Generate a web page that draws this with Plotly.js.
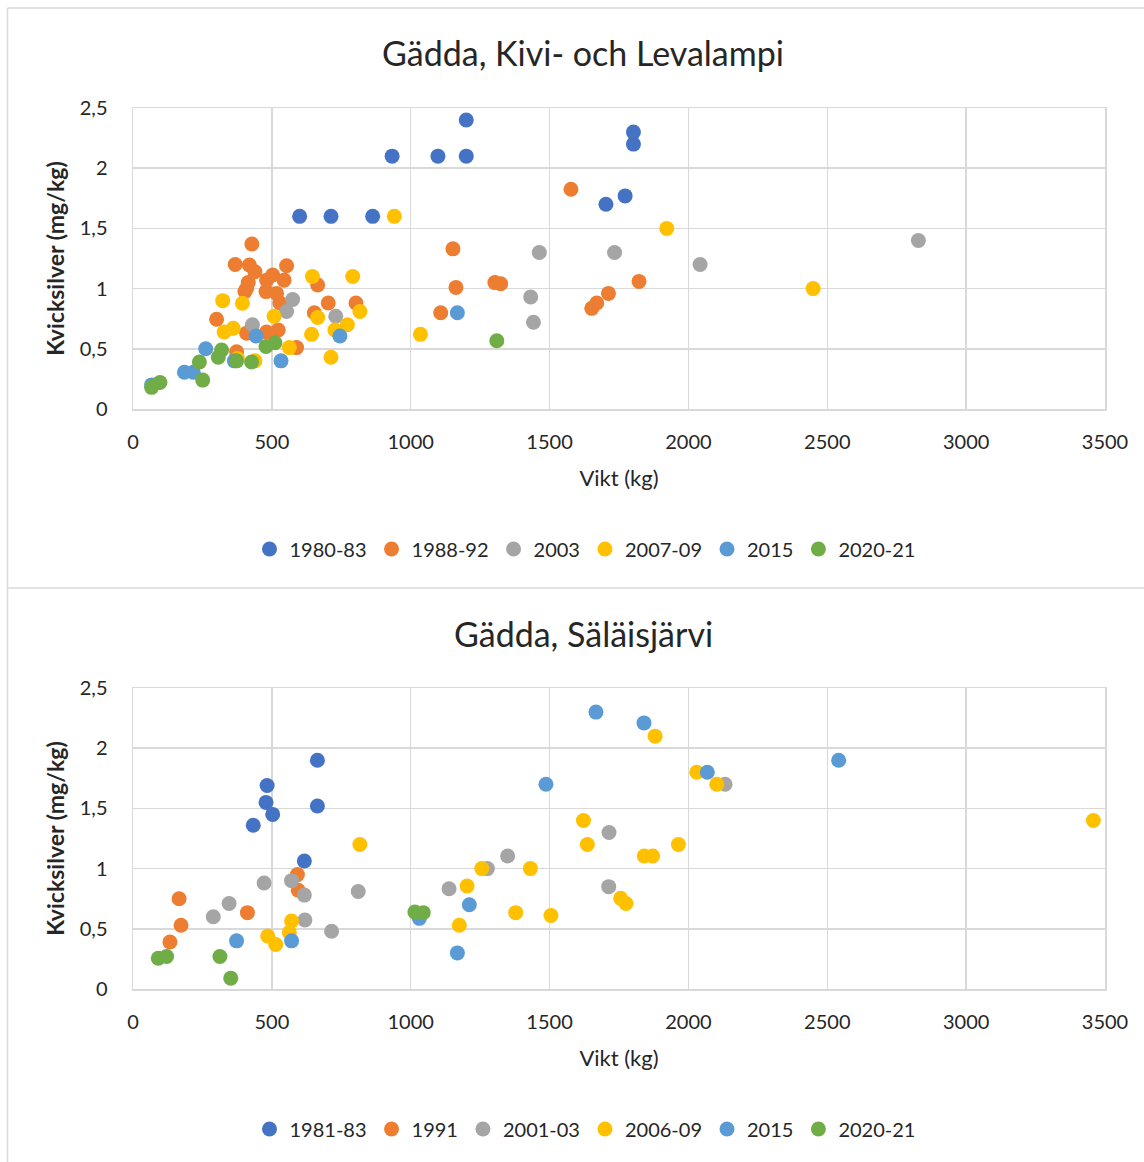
<!DOCTYPE html>
<html>
<head>
<meta charset="utf-8">
<script src="https://cdn.plot.ly/plotly-3.0.1.min.js"></script>
<style>
html,body{margin:0;padding:0;background:#fff;}
#chart{width:1144px;height:1162px;}
</style>
</head>
<body>
<div id="chart"></div>
<script>
// ---------- Data: Gädda, Kivi- och Levalampi ----------
const topTitle = "Gädda, Kivi- och Levalampi";
const topNames = ["1980-83", "1988-92", "2003", "2007-09", "2015", "2020-21"];
const kivi_1980_83_x = [600, 713, 863, 933, 1098, 1200, 1200, 1703, 1772, 1802, 1802];
const kivi_1980_83_y = [1.6, 1.6, 1.6, 2.1, 2.1, 2.1, 2.4, 1.70, 1.77, 2.20, 2.30];
const kivi_1988_92_x = [301, 368, 373, 403, 409, 409, 415, 419, 428, 439, 479, 481, 481, 503, 517, 523, 529, 544, 553, 589, 653, 665, 703, 803, 1108, 1152, 1163, 1303, 1324, 1577, 1652, 1670, 1712, 1822];
const kivi_1988_92_y = [0.745, 1.20, 0.476, 0.975, 0.63, 1.0, 1.05, 1.196, 1.37, 1.14, 0.975, 1.07, 0.64, 1.113, 0.96, 0.656, 0.88, 1.07, 1.19, 0.51, 0.80, 1.03, 0.88, 0.88, 0.80, 1.33, 1.01, 1.05, 1.04, 1.825, 0.836, 0.88, 0.96, 1.06];
const kivi_2003_x = [430, 553, 575, 730, 1432, 1442, 1463, 1734, 2042, 2828];
const kivi_2003_y = [0.70, 0.81, 0.91, 0.77, 0.93, 0.72, 1.30, 1.30, 1.20, 1.40];
const kivi_2007_09_x = [323, 328, 361, 376, 394, 439, 508, 563, 643, 646, 665, 713, 727, 772, 791, 817, 941, 1035, 1922, 2449];
const kivi_2007_09_y = [0.90, 0.64, 0.67, 0.42, 0.878, 0.40, 0.77, 0.51, 0.62, 1.10, 0.76, 0.43, 0.656, 0.70, 1.10, 0.81, 1.6, 0.62, 1.50, 1.0];
const kivi_2015_x = [67, 185, 217, 262, 365, 443, 533, 745, 1168];
const kivi_2015_y = [0.20, 0.305, 0.305, 0.50, 0.40, 0.606, 0.40, 0.606, 0.80];
const kivi_2020_21_x = [67, 97, 239, 251, 307, 319, 373, 427, 479, 511, 1310];
const kivi_2020_21_y = [0.18, 0.22, 0.39, 0.24, 0.43, 0.49, 0.40, 0.39, 0.52, 0.55, 0.567];

// ---------- Data: Gädda, Säläisjärvi ----------
const bottomTitle = "Gädda, Säläisjärvi";
const bottomNames = ["1981-83", "1991", "2001-03", "2006-09", "2015", "2020-21"];
const sal_1981_83_x = [433, 479, 483, 503, 617, 664, 664];
const sal_1981_83_y = [1.36, 1.55, 1.69, 1.45, 1.063, 1.52, 1.90];
const sal_1991_x = [133, 166, 173, 412, 592, 595];
const sal_1991_y = [0.39, 0.75, 0.53, 0.634, 0.95, 0.82];
const sal_2001_03_x = [289, 346, 472, 571, 617, 619, 715, 811, 1138, 1276, 1349, 1713, 1714, 2132];
const sal_2001_03_y = [0.60, 0.71, 0.88, 0.90, 0.78, 0.573, 0.48, 0.81, 0.833, 1.0, 1.105, 0.85, 1.30, 1.70];
const sal_2006_09_x = [485, 514, 563, 571, 817, 1175, 1203, 1256, 1378, 1431, 1505, 1622, 1636, 1756, 1775, 1841, 1871, 1880, 1964, 2030, 2102, 3458];
const sal_2006_09_y = [0.44, 0.37, 0.47, 0.565, 1.20, 0.53, 0.855, 1.0, 0.634, 1.0, 0.61, 1.40, 1.20, 0.753, 0.71, 1.105, 1.105, 2.10, 1.20, 1.80, 1.70, 1.40];
const sal_2015_x = [373, 571, 1031, 1168, 1211, 1487, 1667, 1840, 2068, 2541];
const sal_2015_y = [0.40, 0.40, 0.587, 0.30, 0.70, 1.70, 2.30, 2.21, 1.80, 1.90];
const sal_2020_21_x = [91, 121, 313, 352, 1015, 1045];
const sal_2020_21_y = [0.255, 0.27, 0.27, 0.09, 0.64, 0.634];

// ---------- Axes ----------
const xTickVals = [0, 500, 1000, 1500, 2000, 2500, 3000, 3500];
const xTickText = ["0", "500", "1000", "1500", "2000", "2500", "3000", "3500"];
const yTickVals = [0, 0.5, 1, 1.5, 2, 2.5];
const yTickText = ["0", "0,5", "1", "1,5", "2", "2,5"];
const xTitle = "Vikt (kg)";
const yTitle = "Kvicksilver (mg/kg)";

const colors = ["#4472C4", "#ED7D31", "#A5A5A5", "#FFC000", "#5B9BD5", "#70AD47"];

const W = 1144, H = 1162;
const FONT = "Lato, 'Open Sans', sans-serif";
const TXT = "#262626";

function mk(x, y, name, i, xa, ya, leg) {
  return {
    type: "scatter", mode: "markers", x: x, y: y, name: name,
    xaxis: xa, yaxis: ya, legend: leg,
    marker: {color: colors[i], size: 15, line: {width: 0}},
    hoverinfo: "x+y+name"
  };
}

const topX = [kivi_1980_83_x, kivi_1988_92_x, kivi_2003_x, kivi_2007_09_x, kivi_2015_x, kivi_2020_21_x];
const topY = [kivi_1980_83_y, kivi_1988_92_y, kivi_2003_y, kivi_2007_09_y, kivi_2015_y, kivi_2020_21_y];
const botX = [sal_1981_83_x, sal_1991_x, sal_2001_03_x, sal_2006_09_x, sal_2015_x, sal_2020_21_x];
const botY = [sal_1981_83_y, sal_1991_y, sal_2001_03_y, sal_2006_09_y, sal_2015_y, sal_2020_21_y];

const traces = [];
for (let i = 0; i < 6; i++) traces.push(mk(topX[i], topY[i], topNames[i], i, "x", "y", "legend"));
for (let i = 0; i < 6; i++) traces.push(mk(botX[i], botY[i], bottomNames[i], i, "x2", "y2", "legend2"));

const px = v => v / W;
const py = v => 1 - v / H;

function xax(anchor) {
  return {
    domain: [px(133), px(1105)], anchor: anchor, range: [0, 3500],
    tickvals: xTickVals, ticktext: xTickText,
    showgrid: true, gridcolor: "#d9d9d9", gridwidth: 1.5,
    showline: true, linecolor: "#d9d9d9", linewidth: 1.5, mirror: true,
    zeroline: false, ticks: "", ticklabelstandoff: 14,
    tickfont: {family: FONT, size: 20, color: TXT},
    title: {text: xTitle, font: {family: FONT, size: 22, color: TXT}, standoff: 19},
    fixedrange: true
  };
}
function yax(anchor, dom) {
  return {
    domain: dom, anchor: anchor, range: [0, 2.5],
    tickvals: yTickVals, ticktext: yTickText,
    showgrid: true, gridcolor: "#d9d9d9", gridwidth: 1.5,
    showline: true, linecolor: "#d9d9d9", linewidth: 1.5, mirror: true,
    zeroline: false, ticks: "", ticklabelstandoff: 20,
    tickfont: {family: FONT, size: 20, color: TXT},
    title: {text: yTitle, font: {family: FONT, size: 23, color: TXT, weight: "bold"}, standoff: 8},
    fixedrange: true
  };
}

const legFont = {family: FONT, size: 20, color: TXT};

const layout = {
  width: W, height: H,
  margin: {l: 0, r: 0, t: 0, b: 0},
  paper_bgcolor: "#ffffff", plot_bgcolor: "#ffffff",
  font: {family: FONT, color: TXT},
  showlegend: true,
  title: {text: topTitle, font: {family: FONT, size: 34, color: TXT}, x: px(583), xanchor: "center", y: py(54), yanchor: "middle", xref: "paper", yref: "paper"},
  xaxis: xax("y"),
  yaxis: yax("x", [py(409), py(108)]),
  xaxis2: xax("y2"),
  yaxis2: yax("x2", [py(989), py(688)]),
  legend: {orientation: "h", x: px(585), xanchor: "center", y: py(549), yanchor: "middle",
           font: legFont, itemwidth: 30, bgcolor: "rgba(0,0,0,0)"},
  legend2: {orientation: "h", x: px(585), xanchor: "center", y: py(1129), yanchor: "middle",
           font: legFont, itemwidth: 30, bgcolor: "rgba(0,0,0,0)"},
  annotations: [
    {text: bottomTitle, xref: "paper", yref: "paper", x: px(583), y: py(633), xanchor: "center", yanchor: "middle",
     showarrow: false, font: {family: FONT, size: 34, color: TXT}}
  ],
  shapes: [
    {type: "line", xref: "paper", yref: "paper", x0: px(7.5), x1: 1, y0: py(8), y1: py(8), line: {color: "#d9d9d9", width: 1.5}},
    {type: "line", xref: "paper", yref: "paper", x0: px(7.5), x1: 1, y0: py(588), y1: py(588), line: {color: "#d9d9d9", width: 1.5}},
    {type: "line", xref: "paper", yref: "paper", x0: px(7.5), x1: px(7.5), y0: py(8), y1: 0, line: {color: "#d9d9d9", width: 1.5}}
  ]
};

Plotly.newPlot("chart", traces, layout, {displayModeBar: false, staticPlot: true});
</script>
</body>
</html>
